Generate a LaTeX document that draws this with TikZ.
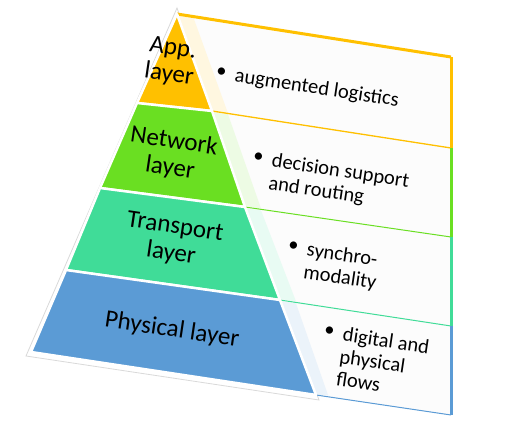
\documentclass[tikz,border=0pt]{standalone}
\usepackage{fontspec}
\setmainfont{Carlito}
\usetikzlibrary{calc}
\definecolor{cApp}{HTML}{FFC000}
\definecolor{cNet}{HTML}{6ADF22}
\definecolor{cTra}{HTML}{40DC98}
\definecolor{cPhy}{HTML}{5B9BD5}
\definecolor{panelfill}{HTML}{FCFCFC}
\newcommand{\bulletmark}{\raisebox{3pt}{\textbullet}\hspace{9pt}}
\newcommand{\bulletgap}{\hphantom{\textbullet\hspace{9pt}}}
\newcommand{\blines}[1]{\begin{tabular}[t]{@{}l@{}}#1\end{tabular}}
\begin{document}
\begin{tikzpicture}[x=1pt,y=-1pt,
  layerlbl/.style={font=\fontsize{25}{27}\selectfont, align=center, rotate=-8.5, inner sep=0pt},
  bullettxt/.style={font=\fontsize{20.5}{22.5}\selectfont, rotate=-8.5, anchor=base west, inner sep=0pt},
  layerpoly/.style={fill=#1, draw=white, line width=2.5pt, line join=round},
  panelpoly/.style={fill=panelfill},
  strippoly/.style={fill=#1!12},
  rowline/.style={draw=#1, line width=1.3pt},
  rightedge/.style={draw=#1, line width=3pt}
]
\useasboundingbox (0,0) rectangle (511,425);
% pyramid corners
\coordinate (A) at (177,14);
\coordinate (L1) at (137,103);
\coordinate (L2) at (100,188);
\coordinate (L3) at (66,270);
\coordinate (L) at (31,352);
\coordinate (R1) at (212,111);
\coordinate (R2) at (245,207);
\coordinate (R3) at (280,300);
\coordinate (R) at (316,395);
% panel right corners
\coordinate (P0) at (451,57);
\coordinate (P1) at (451,148);
\coordinate (P2) at (451,237);
\coordinate (P3) at (451,326);
\coordinate (P4) at (451,415);
% outline
\draw[gray!30, line width=0.8pt, fill=white] (177,8) -- (26,356) -- (319,400) -- cycle;
% panels
\fill[panelfill] (A) -- (P0) -- (P1) -- (R1) -- cycle;
\fill[panelfill] (R1) -- (P1) -- (P2) -- (R2) -- cycle;
\fill[panelfill] (R2) -- (P2) -- (P3) -- (R3) -- cycle;
\fill[panelfill] (R3) -- (P3) -- (P4) -- (R) -- cycle;
% strips
\fill[strippoly=cApp] (A) -- ($(A)+(16,2.4)$) -- ($(R1)+(16,2.4)$) -- (R1) -- cycle;
\fill[strippoly=cNet] ($(R1)+(0,1)$) -- ($(R1)+(16,3.4)$) -- ($(R2)+(16,1.4)$) -- ($(R2)+(0,-1)$) -- cycle;
\fill[strippoly=cTra] ($(R2)+(0,1)$) -- ($(R2)+(16,3.4)$) -- ($(R3)+(16,1.4)$) -- ($(R3)+(0,-1)$) -- cycle;
\fill[strippoly=cPhy] ($(R3)+(0,1)$) -- ($(R3)+(16,3.4)$) -- ($(R)+(12,0)$) -- (R) -- cycle;
% panel borders
\draw[cApp, line width=3pt] (A) -- (P0);
\draw[rowline=cApp] (R1) -- (P1);
\draw[rowline=cNet, line width=1pt] (R2) -- (P2);
\draw[rowline=cTra, line width=1pt] (R3) -- (P3);
\draw[rowline=cPhy, line width=1pt] (R) -- (P4);
\draw[rightedge=cApp] (P0) -- (P1);
\draw[rightedge=cNet] (P1) -- (P2);
\draw[rightedge=cTra] (P2) -- (P3);
\draw[rightedge=cPhy] (P3) -- (P4);
% layers
\draw[layerpoly=cApp] (A) -- (L1) -- (R1) -- cycle;
\draw[layerpoly=cNet] (L1) -- (L2) -- (R2) -- (R1) -- cycle;
\draw[layerpoly=cTra] (L2) -- (L3) -- (R3) -- (R2) -- cycle;
\draw[layerpoly=cPhy] (L3) -- (L) -- (R) -- (R3) -- cycle;
% layer labels
\node[layerlbl] (tApp) at (171,62) {App.\\layer};
\node[layerlbl] (tNet) at (172,155) {Network\\layer};
\node[layerlbl] (tTra) at (173,241) {Transport\\layer};
\node[layerlbl] (tPhy) at (172,330) {Physical layer};
% bullet texts
\node[bullettxt] (bApp) at (215,79) {\blines{\bulletmark augmented logistics}};
\node[bullettxt] (bNet) at (252,164) {\blines{\bulletmark decision support\\\bulletgap and routing}};
\node[bullettxt] (bTra) at (287,253) {\blines{\bulletmark synchro-\\\bulletgap modality}};
\node[bullettxt] (bPhy) at (323,338) {\blines{\bulletmark digital and\\\bulletgap physical\\\bulletgap flows}};
\end{tikzpicture}
\end{document}
